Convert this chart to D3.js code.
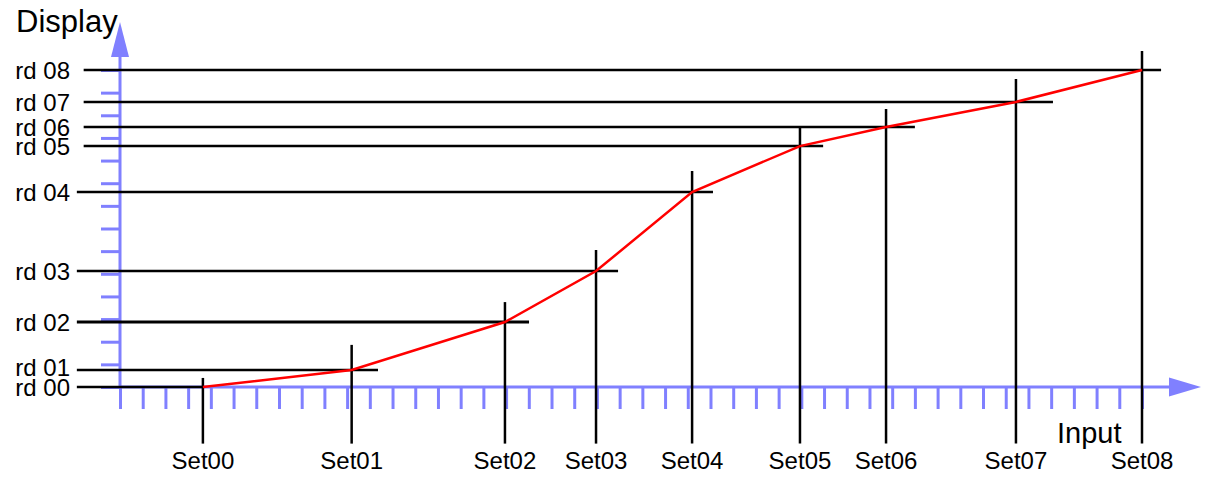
<!DOCTYPE html>
<html>
<head>
<meta charset="utf-8">
<script src="https://cdn.jsdelivr.net/npm/d3@7"></script>
<style>
  body { margin: 0; background: #fff; }
  svg text { font-family: "Liberation Sans", Arial, sans-serif; fill: #000; }
</style>
</head>
<body>
<svg id="chart" width="1207" height="483"></svg>
<script>
// input set points (in x-tick units) and display readings (in y-tick units)
var setLabels = ["Set00", "Set01", "Set02", "Set03", "Set04", "Set05", "Set06", "Set07", "Set08"];
var rdLabels = ["rd 00", "rd 01", "rd 02", "rd 03", "rd 04", "rd 05", "rd 06", "rd 07", "rd 08"];
var inputVals = [3.65, 10.2, 16.95, 20.96, 25.19, 29.94, 33.73, 39.45, 45];
var displayVals = [0, 0.75, 2.87, 5.12, 8.61, 10.64, 11.48, 12.59, 14];
// where each guide line stops (horizontal ends in x units, vertical tops in y units)
var hLineEnds = [3.65, 11.36, 18.01, 21.93, 26.11, 30.96, 35.0, 41.08, 45.84];
var vLineTops = [0.4, 1.86, 3.75, 6.05, 9.54, 11.48, 12.28, 13.6, 14.84];

var svg = d3.select("#chart");
var axisColor = "#8080ff";

var x = d3.scaleLinear().domain([0, 45]).range([120, 1142]);
var y = d3.scaleLinear().domain([0, 14]).range([387, 70]);

// y axis ticks
var yAxis = svg.append("g")
    .attr("transform", "translate(" + x(0) + ",0)")
    .call(d3.axisLeft(y).tickValues(d3.range(15)).tickSize(19).tickSizeOuter(0).tickFormat(""));
yAxis.select(".domain").remove();
yAxis.selectAll("line").attr("stroke", axisColor).attr("stroke-width", 3);

// x axis ticks
var xAxis = svg.append("g")
    .attr("transform", "translate(0," + y(0) + ")")
    .call(d3.axisBottom(x).tickValues(d3.range(46)).tickSize(22).tickSizeOuter(0).tickFormat(""));
xAxis.select(".domain").remove();
xAxis.selectAll("line").attr("stroke", axisColor).attr("stroke-width", 3);

// axis lines with arrows
svg.append("line")
    .attr("x1", x(0)).attr("x2", x(0))
    .attr("y1", y(0)).attr("y2", 56)
    .attr("stroke", axisColor).attr("stroke-width", 3);
svg.append("path")
    .attr("d", "M" + x(0) + ",22 L" + (x(0) - 9) + ",57 L" + (x(0) + 9) + ",57 Z")
    .attr("fill", axisColor);

svg.append("line")
    .attr("x1", x(0)).attr("x2", 1170)
    .attr("y1", y(0)).attr("y2", y(0))
    .attr("stroke", axisColor).attr("stroke-width", 3);
svg.append("path")
    .attr("d", "M1201," + y(0) + " L1169," + (y(0) - 9.5) + " L1169," + (y(0) + 9.5) + " Z")
    .attr("fill", axisColor);

// horizontal guide lines
svg.selectAll(".hline")
    .data(displayVals)
    .enter().append("line")
    .attr("class", "hline")
    .attr("x1", (d, i) => i > 4 ? x(-1.6) : x(-1.9))
    .attr("x2", (d, i) => x(hLineEnds[i]))
    .attr("y1", d => y(d))
    .attr("y2", d => y(d))
    .attr("stroke", "#000")
    .attr("stroke-width", (d, i) => i === 2 ? 3 : 2.5);

// vertical guide lines
svg.selectAll(".vline")
    .data(inputVals)
    .enter().append("line")
    .attr("class", "vline")
    .attr("x1", d => x(d))
    .attr("x2", d => x(d))
    .attr("y1", (d, i) => y(vLineTops[i]))
    .attr("y2", y(-2.5))
    .attr("stroke", "#000")
    .attr("stroke-width", 2.5);

// transfer curve
var line = d3.line()
    .x(d => x(d[0]))
    .y(d => y(d[1]));

svg.append("path")
    .datum(d3.zip(inputVals, displayVals))
    .attr("fill", "none")
    .attr("stroke", "#ff0000")
    .attr("stroke-width", 2.5)
    .attr("d", line);

// labels
svg.selectAll(".rdlabel")
    .data(displayVals)
    .enter().append("text")
    .attr("class", "rdlabel")
    .attr("x", 70)
    .attr("y", (d, i) => y(d) - (i === 1 ? 3 : 0))
    .attr("dy", "0.36em")
    .attr("text-anchor", "end")
    .style("font-size", "24px")
    .text((d, i) => rdLabels[i]);

svg.selectAll(".setlabel")
    .data(inputVals)
    .enter().append("text")
    .attr("class", "setlabel")
    .attr("x", d => x(d))
    .attr("y", y(0) + 82)
    .attr("text-anchor", "middle")
    .style("font-size", "24px")
    .text((d, i) => setLabels[i]);

svg.append("text")
    .attr("x", 16)
    .attr("y", 32)
    .style("font-size", "31px")
    .text("Display");

svg.append("text")
    .attr("x", 1057)
    .attr("y", 443)
    .style("font-size", "29px")
    .text("Input");
</script>
</body>
</html>
